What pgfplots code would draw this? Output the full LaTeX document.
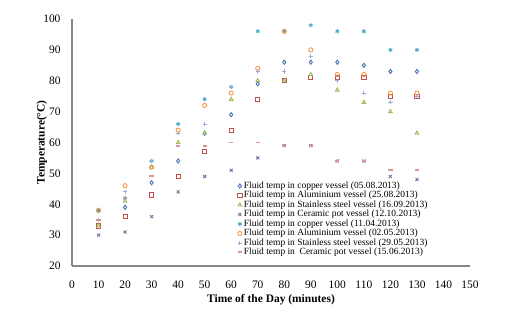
\documentclass[border=0pt]{standalone}
\usepackage{fontspec}
\setmainfont{Liberation Serif}
\usepackage{pgfplots}
\usepackage{pgfplotstable}
\pgfplotsset{compat=1.18}
\definecolor{cuA}{HTML}{4672B8}
\definecolor{alA}{HTML}{C0504D}
\definecolor{ssA}{HTML}{9BBB59}
\definecolor{ceA}{HTML}{8064A2}
\definecolor{cuB}{HTML}{4BACC6}
\definecolor{alB}{HTML}{F79646}
\definecolor{ssB}{HTML}{95AEDA}
\definecolor{ceB}{HTML}{D99694}
\definecolor{axgray}{HTML}{868686}
\pgfplotstableread{
x   cuA alA ssA ceA cuB alB ssB ceB
10  38  33  33  30  38  38  35  35
20  39  36  41  31  42  46  44  42
30  47  43  52  36  54  52  54  49
40  54  49  60  44  66  64  63  59
50  63  57  63  49  74  72  66  59
60  69  64  74  51  78  76  78  60
70  79  74  80  55  96  84  83  60
80  86  80  80  59  96  96  83  59
90  86  81  82  59  98  90  88  59
100 86  81  77  54  96  82  80  54
110 85  81  73  54  96  82  76  54
120 83  75  70  49  90  76  73  51
130 83  75  63  48  90  76  75  51
}\datatable
\begin{document}
\begin{tikzpicture}
\useasboundingbox (-72bp,-60bp) rectangle (439bp,266bp);
\begin{axis}[
  at={(0,0)}, anchor=south west,
  scale only axis, width=398bp, height=247bp,
  xmin=0, xmax=150, ymin=20, ymax=100,
  xtick={0,10,...,150}, ytick={20,30,...,100},
  axis lines*=left,
  axis line style={color=axgray, line width=1.3pt},
  major tick length=0pt,
  /pgf/number format/assume math mode=true,
  ticklabel style={font=\fontsize{11.5}{12}\selectfont},
  xticklabel style={anchor=center, yshift=-19bp},
  yticklabel style={anchor=east, xshift=-8bp},
  xlabel={Time of the Day (minutes)},
  ylabel={Temperature(\textdegree C)},
  label style={font=\fontsize{11.5}{12}\selectfont\bfseries},
  xlabel style={at={(axis description cs:0.5,-0.1377)}, anchor=center},
  ylabel style={at={(axis description cs:-0.0754,0.5)}, anchor=center, rotate=0},
  clip=false,
  legend cell align=left,
  legend image code/.code={\draw[#1] plot coordinates {(0bp,0bp)};},
  legend style={at={(0.416,0.344)}, anchor=north west, draw=none, fill=none,
    font=\fontsize{9.5}{9.5}\selectfont, row sep=0pt, column sep=2bp,
    inner sep=0pt,
    nodes={inner sep=0pt, text height=6.8bp, text depth=2.7bp}},
  every axis plot/.append style={only marks, mark size=2.1bp, line width=0.9pt},
]
\addplot[color=cuA, mark=diamond] table[x=x,y=cuA] {\datatable};
\addlegendentry{Fluid temp in copper vessel (05.08.2013)}
\addplot[color=alA, mark=square] table[x=x,y=alA] {\datatable};
\addlegendentry{Fluid temp in Aluminium vessel (25.08.2013)}
\addplot[color=ssA, mark=triangle] table[x=x,y=ssA] {\datatable};
\addlegendentry{Fluid temp in Stainless steel vessel (16.09.2013)}
\addplot[color=ceA, mark=x] table[x=x,y=ceA] {\datatable};
\addlegendentry{Fluid temp in Ceramic pot vessel (12.10.2013)}
\addplot[color=cuB, mark=asterisk] table[x=x,y=cuB] {\datatable};
\addlegendentry{Fluid temp in copper vessel (11.04.2013)}
\addplot[color=alB, mark=o] table[x=x,y=alB] {\datatable};
\addlegendentry{Fluid temp in Aluminium vessel (02.05.2013)}
\addplot[color=ssB, mark=+] table[x=x,y=ssB] {\datatable};
\addlegendentry{Fluid temp in Stainless steel vessel (29.05.2013)}
\addplot[color=ceB, mark=-, mark options={line width=2pt}] table[x=x,y=ceB] {\datatable};
\addlegendentry{Fluid temp in \ Ceramic pot vessel (15.06.2013)}
\end{axis}
\end{tikzpicture}
\end{document}
